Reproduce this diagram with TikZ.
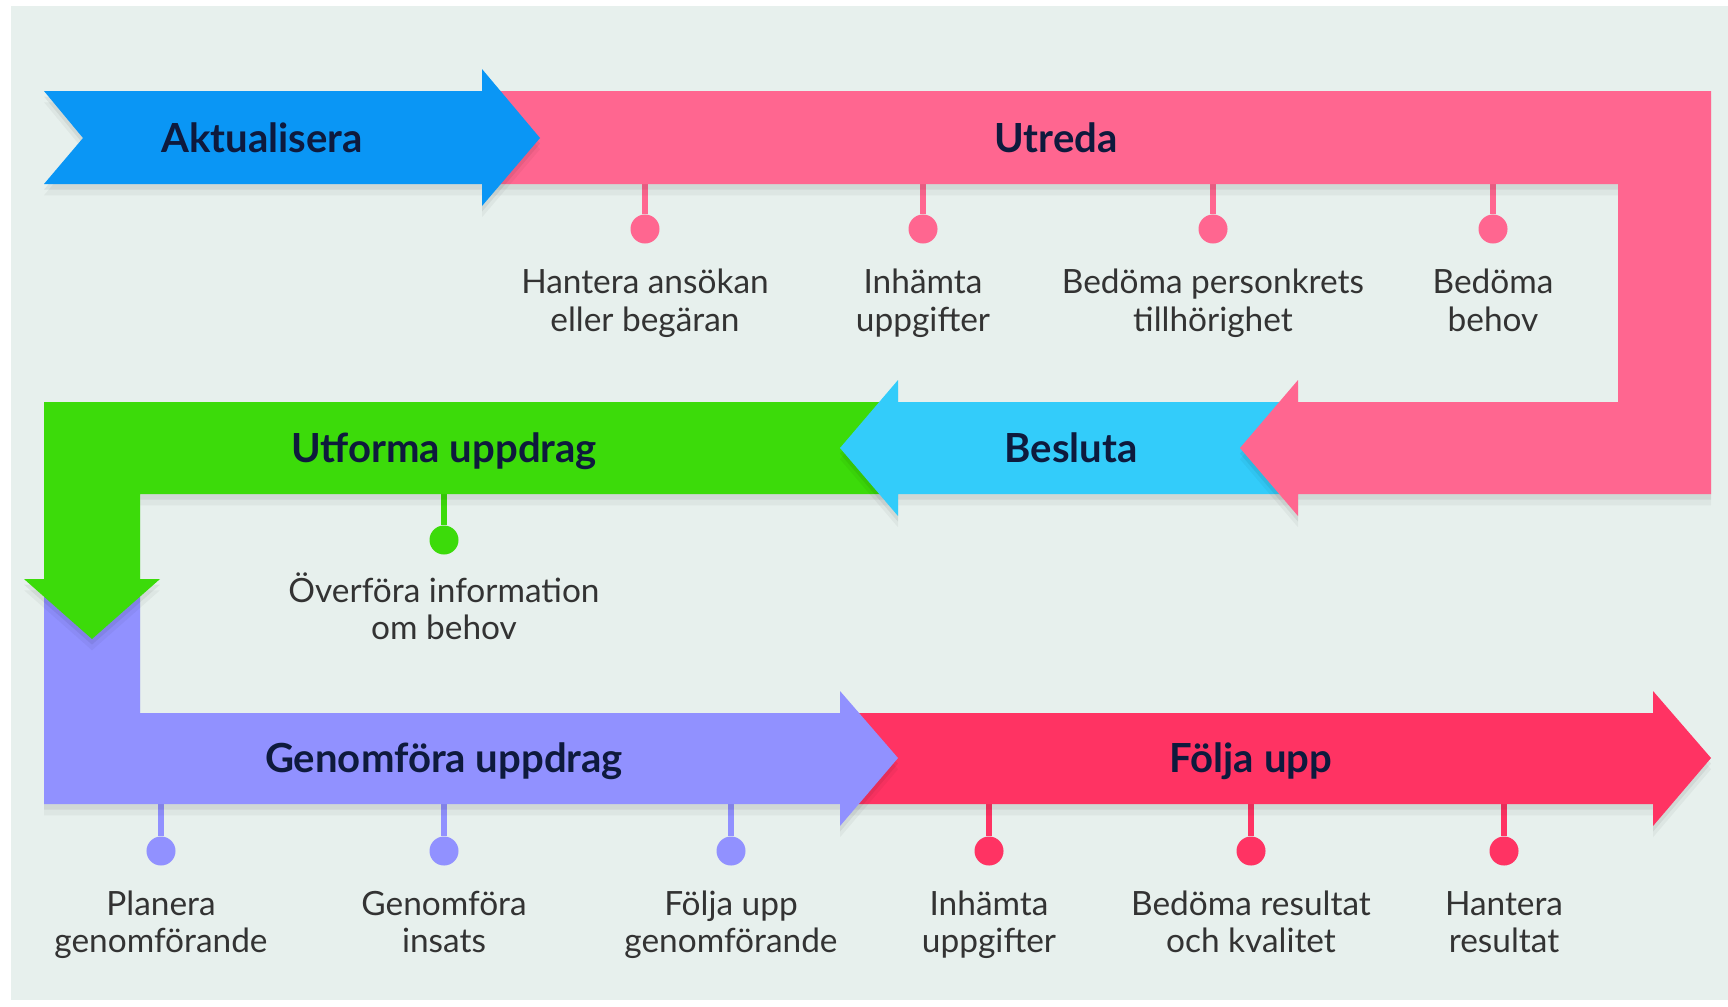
\documentclass[tikz,border=0pt]{standalone}
\usepackage{fontspec}
\setmainfont{Lato}
\definecolor{bg}{HTML}{E7F0ED}
\definecolor{cakt}{HTML}{0A96F5}
\definecolor{cutr}{HTML}{FF6690}
\definecolor{cbes}{HTML}{33CCFA}
\definecolor{cutf}{HTML}{3CDB0A}
\definecolor{cgen}{HTML}{9191FF}
\definecolor{cfol}{HTML}{FF3363}
\definecolor{navy}{HTML}{0E1A3D}
\definecolor{txt}{HTML}{333333}
\tikzset{
  band/.style={fill=#1,
    preaction={fill=black, fill opacity=0.04, transform canvas={yshift=-3.2pt}},
    preaction={fill=black, fill opacity=0.06, transform canvas={yshift=-1.6pt}}},
  title/.style={font=\bfseries\fontsize{11.4}{13}\selectfont, text=navy, text height=8.2pt, text depth=0pt},
  sub/.style={font=\fontsize{9.5}{10.7}\selectfont, text=txt, align=center},
  dot/.style={circle, fill=#1, inner sep=0pt, minimum size=0.29cm},
  stem/.style={draw=#1, line width=1.7pt}
}
\begin{document}
\begin{tikzpicture}[x=0.01cm,y=-0.01cm]
\useasboundingbox (0,0) rectangle (1728,1006);
\fill[white] (0,0) rectangle (1728,1006);
\fill[bg] (11,6) rectangle (1728,1000);

% stems and dots, row 1 (Utreda)
\foreach \n/\x/\la/\lb in {a/645/{Hantera ansökan}/{eller begäran}, b/923/{Inhämta}/{uppgifter}, c/1213/{Bedöma personkrets}/{tillhörighet}, d/1493/{Bedöma}/{behov}}{
  \coordinate (s\n) at (\x,184);
  \node[dot=cutr] (d\n) at (\x,229) {};
  \draw[stem=cutr] (s\n) -- (d\n);
  \node[sub] (l\n) at (\x,301) {\vphantom{Ö}\la\\\lb\vphantom{gy}};
}
% row 2 (Utforma uppdrag)
\coordinate (se) at (444,494);
\node[dot=cutf] (de) at (444,540) {};
\draw[stem=cutf] (se) -- (de);
\node[sub] (le) at (444,609) {\vphantom{Ö}Överföra information\\om behov\vphantom{gy}};
% row 3 (Genomföra uppdrag)
\foreach \n/\x/\la/\lb in {f/161/{Planera}/{genomförande}, g/444/{Genomföra}/{insats}, h/731/{Följa upp}/{genomförande}}{
  \coordinate (s\n) at (\x,804);
  \node[dot=cgen] (d\n) at (\x,851) {};
  \draw[stem=cgen] (s\n) -- (d\n);
  \node[sub] (l\n) at (\x,922) {\vphantom{Ö}\la\\\lb\vphantom{gy}};
}
% row 3 (Följa upp)
\foreach \n/\x/\la/\lb in {i/989/{Inhämta}/{uppgifter}, j/1251/{Bedöma resultat}/{och kvalitet}, k/1504/{Hantera}/{resultat}}{
  \coordinate (s\n) at (\x,804);
  \node[dot=cfol] (d\n) at (\x,851) {};
  \draw[stem=cfol] (s\n) -- (d\n);
  \node[sub] (l\n) at (\x,922) {\vphantom{Ö}\la\\\lb\vphantom{gy}};
}

% arrows, back to front
\path[band=cfol] (840,713) -- (1653,713) -- (1653,691) -- (1711,758) -- (1653,826) -- (1653,804) -- (840,804) -- cycle;
\path[band=cgen] (44,579) -- (44,804) -- (840,804) -- (840,826) -- (898,758) -- (840,691) -- (840,713) -- (140,713) -- (140,579) -- cycle;
\path[band=cutf] (898,402) -- (44,402) -- (44,579) -- (24,579) -- (92,639) -- (160,579) -- (140,579) -- (140,494) -- (898,494) -- cycle;
\path[band=cbes] (840,448) -- (898,380) -- (898,402) -- (1298,402) -- (1298,494) -- (898,494) -- (898,516) -- cycle;
\path[band=cutr] (482,91) -- (1711,91) -- (1711,494) -- (1298,494) -- (1298,516) -- (1240,448) -- (1298,380) -- (1298,402) -- (1618,402) -- (1618,184) -- (482,184) -- cycle;
\path[band=cakt] (44,91) -- (482,91) -- (482,69) -- (540,138) -- (482,206) -- (482,184) -- (44,184) -- (83,138) -- cycle;

% titles
\node[title] (takt) at (262,138) {Aktualisera};
\node[title] (tutr) at (1056,138) {Utreda};
\node[title] (tutf) at (444,448) {Utforma uppdrag};
\node[title] (tbes) at (1071,448) {Besluta};
\node[title] (tgen) at (444,758) {Genomföra uppdrag};
\node[title] (tfol) at (1251,758) {Följa upp};
\end{tikzpicture}
\end{document}
